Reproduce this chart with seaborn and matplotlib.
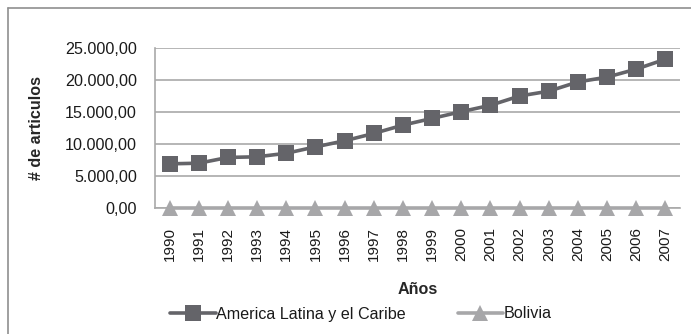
import matplotlib
matplotlib.use("Agg")
import matplotlib.pyplot as plt
from matplotlib.lines import Line2D
from matplotlib.ticker import FuncFormatter, MultipleLocator
import numpy as np
import pandas as pd
import seaborn as sns

years = list(range(1990, 2008))
america_latina = [6900, 7000, 7900, 8000, 8550, 9550, 10500, 11650, 12950,
                  14000, 15050, 16050, 17500, 18250, 19700, 20450, 21700, 23250]
bolivia = [0] * len(years)
series_names = ["America Latina y el Caribe", "Bolivia"]

df = pd.DataFrame({
    "year": years * 2,
    "value": america_latina + bolivia,
    "serie": [series_names[0]] * len(years) + [series_names[1]] * len(years),
})

sns.set_theme(style="white")
plt.rcParams["font.family"] = ["Liberation Sans", "DejaVu Sans"]
plt.rcParams["text.color"] = "#1a1a1a"

dark = "#646469"
light = "#a7a7a9"
grid_c = "#a9a9a9"
fs = 11.6

fig = plt.figure(figsize=(6.91, 3.34), dpi=100)
ax = fig.add_axes([155 / 691, 1 - 208 / 334, 525 / 691, 160 / 334])

sns.lineplot(data=df, x="year", y="value", hue="serie", style="serie",
             palette={series_names[0]: dark, series_names[1]: light},
             markers={series_names[0]: "s", series_names[1]: "^"},
             dashes=False, markersize=11, markeredgewidth=0, linewidth=2.6,
             sort=False, ax=ax, legend=False, clip_on=False, zorder=3)

ax.set_xlim(1989.5, 2007.5)
ax.set_ylim(0, 25000)
ax.yaxis.set_major_locator(MultipleLocator(5000))
ax.yaxis.set_major_formatter(FuncFormatter(
    lambda v, p: f"{v:,.2f}".replace(",", "X").replace(".", ",").replace("X", ".")))
ax.set_xticks(years)
ax.set_xticklabels([str(y) for y in years], rotation=90)
ax.set_xticks(np.arange(1989.5, 2008.0, 1.0), minor=True)
ax.tick_params(axis="x", which="major", length=0, pad=14, labelsize=11, colors="#1a1a1a")
ax.tick_params(axis="x", which="minor", length=4, width=1.2, color=grid_c, direction="out")
ax.tick_params(axis="y", which="major", length=4, width=1.2, color=grid_c, direction="out",
               labelsize=fs, labelcolor="#1a1a1a", pad=9)

ax.grid(axis="y", color=grid_c, linewidth=1.2)
ax.grid(axis="x", visible=False)
for s in ["top", "right"]:
    ax.spines[s].set_visible(False)
for s in ["left", "bottom"]:
    ax.spines[s].set_color(grid_c)
    ax.spines[s].set_linewidth(1.2)
ax.set_axisbelow(True)

ax.set_xlabel("Años", fontsize=fs, fontweight="bold", labelpad=15)
ax.set_ylabel("# de articulos", fontsize=fs, fontweight="bold", labelpad=15)

handles = [
    Line2D([], [], color=dark, marker="s", markersize=11, markeredgewidth=0, linewidth=2.6),
    Line2D([], [], color=light, marker="^", markersize=11, markeredgewidth=0, linewidth=2.6),
]
fig.legend(handles, series_names, loc="center", bbox_to_anchor=(361 / 691, 1 - 314 / 334),
           ncol=2, frameon=False, fontsize=fs, handlelength=2.8, handletextpad=0.05,
           columnspacing=3.2)

# outer chart frame
frame_c = "#8f8f8f"
fig.add_artist(Line2D([8 / 691, 1.0], [1 - 8 / 334] * 2, color=frame_c, linewidth=1.2,
                      transform=fig.transFigure))
fig.add_artist(Line2D([8 / 691] * 2, [0, 1 - 8 / 334], color=frame_c, linewidth=1.2,
                      transform=fig.transFigure))

fig.savefig("out.png", dpi=100, facecolor="white")
